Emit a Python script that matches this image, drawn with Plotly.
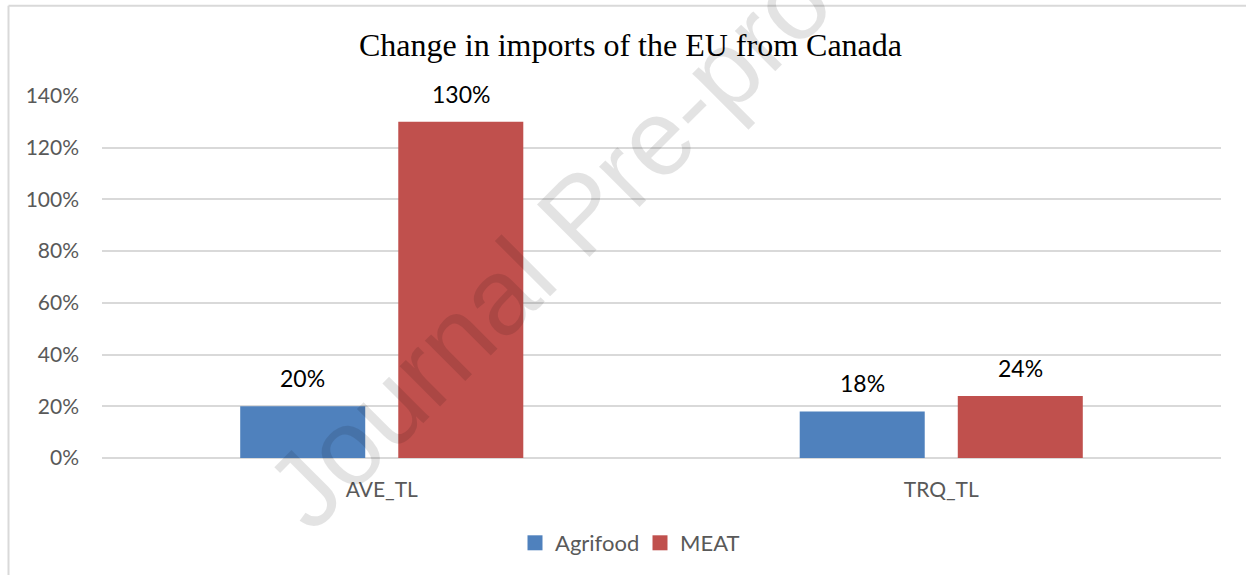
import plotly.graph_objects as go

# Data
categories = ["AVE_TL", "TRQ_TL"]
agrifood = [0.20, 0.18]
meat = [1.30, 0.24]
series_names = ["Agrifood", "MEAT"]
series_colors = ["#4F81BD", "#C0504D"]
y_ticks = [0, 0.2, 0.4, 0.6, 0.8, 1.0, 1.2, 1.4]

W, H = 1246, 575
L, R, T, B = 102, 25, 96, 116
PW, PH = W - L - R, H - T - B


def px_x(x):
    return (x - L) / PW


def px_y(y):
    return (H - B - y) / PH


TEXT_FONT = "Lato, 'Open Sans', sans-serif"
GRID = "#D9D9D9"

fig = go.Figure()
for name, vals, col in zip(series_names, [agrifood, meat], series_colors):
    fig.add_trace(go.Bar(
        x=categories, y=vals, name=name, legendgroup=name,
        marker=dict(color=col, line=dict(width=0)),
        hoverinfo="skip", showlegend=False,
    ))
    # legend swatch (square marker)
    fig.add_trace(go.Scatter(
        x=[None], y=[None], mode="markers", name=name, legendgroup=name,
        marker=dict(symbol="square", size=15, color=col),
        hoverinfo="skip", showlegend=True,
    ))

# value labels above each bar
group_slot = 158
for i, (vals, name) in enumerate(zip([agrifood, meat], series_names)):
    shift = (i - 0.5) * group_slot
    for c, v in zip(categories, vals):
        fig.add_annotation(
            x=c, y=v, xref="x", yref="y",
            text=f"{round(v * 100):d}%", showarrow=False,
            xshift=shift, yshift=12, yanchor="bottom",
            font=dict(family=TEXT_FONT, size=23, color="#000000"),
        )

# outer frame (top and left edges)
fig.add_shape(type="line", xref="paper", yref="paper",
              x0=px_x(8.5), x1=px_x(W + 5), y0=px_y(5.5), y1=px_y(5.5),
              line=dict(color=GRID, width=2), layer="below")
fig.add_shape(type="line", xref="paper", yref="paper",
              x0=px_x(8.5), x1=px_x(8.5), y0=px_y(5.5), y1=px_y(H + 5),
              line=dict(color=GRID, width=2), layer="below")

# watermark
fig.add_annotation(
    xref="paper", yref="paper", x=px_x(580), y=px_y(214),
    text="Journal Pre-proof", textangle=-45, showarrow=False,
    xanchor="center", yanchor="middle",
    font=dict(family="'Liberation Sans', Arial, sans-serif",
              size=108, color="rgba(0,0,0,0.11)"),
)

fig.update_layout(
    width=W, height=H,
    margin=dict(l=L, r=R, t=T, b=B, pad=0),
    paper_bgcolor="white", plot_bgcolor="white",
    barmode="group", bargap=0.435, bargroupgap=0.209,
    title=dict(
        text="Change in imports of the EU from Canada",
        x=630.5 / W, xanchor="center", y=1 - 45 / H, yanchor="middle",
        font=dict(family="'Liberation Serif', 'Times New Roman', serif",
                  size=32, color="#000000"),
    ),
    showlegend=True,
    legend=dict(
        orientation="h", x=px_x(640), xanchor="center",
        y=px_y(543), yanchor="middle",
        font=dict(family=TEXT_FONT, size=22, color="#595959"),
        bgcolor="rgba(0,0,0,0)", entrywidth=80,
    ),
    xaxis=dict(
        showgrid=False, showline=False, zeroline=False,
        tickfont=dict(family=TEXT_FONT, size=21, color="#595959"),
        ticks="", ticklabelstandoff=17,
    ),
    yaxis=dict(
        range=[0, 1.4], tickvals=y_ticks, tickformat=".0%",
        showgrid=True, gridcolor=GRID, gridwidth=1.5,
        zeroline=True, zerolinecolor=GRID, zerolinewidth=1.5,
        showline=False, ticks="",
        tickfont=dict(family=TEXT_FONT, size=21, color="#595959"),
        ticklabelstandoff=22,
    ),
)

fig.write_html("out.html")
